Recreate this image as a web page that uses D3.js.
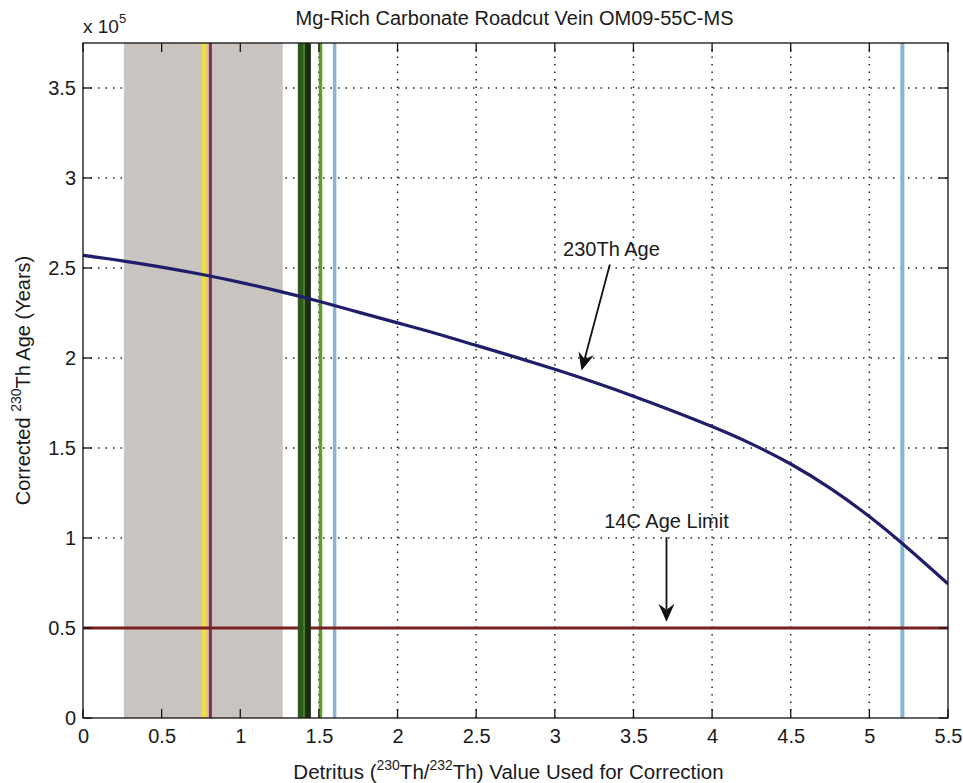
<!DOCTYPE html>
<html>
<head>
<meta charset="utf-8">
<script src="https://cdn.jsdelivr.net/npm/d3@7"></script>
<style>
  html, body { margin: 0; padding: 0; background: #fff; }
  svg text { font-family: "Liberation Sans", Arial, Helvetica, sans-serif; fill: #1a1a1a; }
</style>
</head>
<body>
<svg id="chart" width="963" height="783"></svg>
<script>
// Detritus (230Th/232Th) value used for the correction vs. corrected 230Th age
const detritusRatio = [0, 0.25, 0.5, 0.75, 1.0, 1.25, 1.5, 1.75, 2.0, 2.25, 2.5, 2.75,
                       3.0, 3.25, 3.5, 3.75, 4.0, 4.25, 4.5, 4.75, 5.0, 5.25, 5.5];
const correctedAge = [257000, 254000, 250500, 246500, 242000, 237000, 231500, 225500,
                      219500, 213500, 207000, 200500, 193700, 186500, 178800, 170600,
                      161900, 152300, 141100, 127700, 111900, 93900, 74500];

// Measured detritus ratios (vertical markers) and the shaded range
const shadedRange = [0.26, 1.27];
const markerRatios = [0.77, 0.81, 1.385, 1.43, 1.51, 1.60, 5.21];
const ageLimit14C = 50000;

// Axis ticks
const xTickValues = [0, 0.5, 1, 1.5, 2, 2.5, 3, 3.5, 4, 4.5, 5, 5.5];
const xTickLabels = ["0", "0.5", "1", "1.5", "2", "2.5", "3", "3.5", "4", "4.5", "5", "5.5"];
const yTickValues = [0, 50000, 100000, 150000, 200000, 250000, 300000, 350000];
const yTickLabels = ["0", "0.5", "1", "1.5", "2", "2.5", "3", "3.5"];
const xDomain = [0, 5.5];
const yDomain = [0, 375000];

// Annotation labels and arrows (data coordinates)
const annotationLabels = ["230Th Age", "14C Age Limit"];
const annotationText = [[3.36, 256500], [3.71, 105500]];
const annotationTail = [[3.35, 252000], [3.71, 100500]];
const annotationTip  = [[3.17, 193000], [3.71, 53500]];

// ---- styling ----
const markerStyles = [
  { color: "#f0df3c", width: 5 },
  { color: "#8a2a4e", width: 3 },
  { color: "#2c5a1c", width: 6 },
  { color: "#1a2d14", width: 6 },
  { color: "#629a2e", width: 3.5 },
  { color: "#86b6d4", width: 3.5 },
  { color: "#86b6d4", width: 4 }
];
const FS = 20;

const W = 963, H = 783;
const margin = { left: 83, right: 15, top: 43, bottom: 65 };
const svg = d3.select("#chart");

const x = d3.scaleLinear().domain(xDomain).range([margin.left, W - margin.right]);
const y = d3.scaleLinear().domain(yDomain).range([H - margin.bottom, margin.top]);

const plot = svg.append("g");
const clipId = "plotclip";
svg.append("defs").append("clipPath").attr("id", clipId)
  .append("rect")
  .attr("x", margin.left).attr("y", margin.top)
  .attr("width", W - margin.left - margin.right)
  .attr("height", H - margin.top - margin.bottom);

// dotted grid
const grid = plot.append("g").attr("stroke", "#222").attr("stroke-width", 1.5)
  .attr("stroke-dasharray", "1.5,6");
grid.selectAll(".gx").data(xTickValues.slice(1, -1)).join("line")
  .attr("x1", d => x(d)).attr("x2", d => x(d))
  .attr("y1", y(yDomain[0])).attr("y2", y(yDomain[1]));
grid.selectAll(".gy").data(yTickValues.slice(1)).join("line")
  .attr("y1", d => y(d)).attr("y2", d => y(d))
  .attr("x1", x(xDomain[0])).attr("x2", x(xDomain[1]));

const marks = plot.append("g").attr("clip-path", `url(#${clipId})`);

// shaded detritus range
marks.append("rect")
  .attr("x", x(shadedRange[0])).attr("width", x(shadedRange[1]) - x(shadedRange[0]))
  .attr("y", y(yDomain[1])).attr("height", y(yDomain[0]) - y(yDomain[1]))
  .attr("fill", "#cac4c1");

// vertical markers (dark green pair drawn after the 14C limit line)
const drawMarker = (i) => {
  marks.append("line")
    .attr("x1", x(markerRatios[i])).attr("x2", x(markerRatios[i]))
    .attr("y1", y(yDomain[0])).attr("y2", y(yDomain[1]))
    .attr("stroke", markerStyles[i].color)
    .attr("stroke-width", markerStyles[i].width);
};
[0, 1, 4, 5, 6].forEach(drawMarker);

// 14C age limit
marks.append("line")
  .attr("x1", x(xDomain[0])).attr("x2", x(xDomain[1]))
  .attr("y1", y(ageLimit14C)).attr("y2", y(ageLimit14C))
  .attr("stroke", "#7a2020").attr("stroke-width", 3);

[2, 3].forEach(drawMarker);
// thin lighter stripe between the two dark green markers
const midGreen = (markerRatios[2] + markerRatios[3]) / 2;
marks.append("line")
  .attr("x1", x(midGreen)).attr("x2", x(midGreen))
  .attr("y1", y(yDomain[0])).attr("y2", y(yDomain[1]))
  .attr("stroke", "#4d7a2a").attr("stroke-width", 1.5);

// corrected age curve
const line = d3.line().x((d, i) => x(detritusRatio[i])).y(d => y(d)).curve(d3.curveNatural);
marks.append("path").datum(correctedAge)
  .attr("d", line).attr("fill", "none")
  .attr("stroke", "#1e1e6a").attr("stroke-width", 3.2);

// axes box with inward ticks on all four sides
const tickLen = 9;
const axG = svg.append("g").attr("stroke", "#111").attr("stroke-width", 1.3);
axG.append("rect")
  .attr("x", x(xDomain[0])).attr("y", y(yDomain[1]))
  .attr("width", x(xDomain[1]) - x(xDomain[0])).attr("height", y(yDomain[0]) - y(yDomain[1]))
  .attr("fill", "none");
xTickValues.forEach(v => {
  axG.append("line").attr("x1", x(v)).attr("x2", x(v))
    .attr("y1", y(yDomain[0])).attr("y2", y(yDomain[0]) - tickLen);
  axG.append("line").attr("x1", x(v)).attr("x2", x(v))
    .attr("y1", y(yDomain[1])).attr("y2", y(yDomain[1]) + tickLen);
});
yTickValues.forEach(v => {
  axG.append("line").attr("y1", y(v)).attr("y2", y(v))
    .attr("x1", x(xDomain[0])).attr("x2", x(xDomain[0]) + tickLen);
  axG.append("line").attr("y1", y(v)).attr("y2", y(v))
    .attr("x1", x(xDomain[1])).attr("x2", x(xDomain[1]) - tickLen);
});

// tick labels via d3 axes (domain & tick lines hidden; the box is drawn above)
const xAxis = d3.axisBottom(x).tickValues(xTickValues)
  .tickFormat((d, i) => xTickLabels[i]).tickSize(0).tickPadding(11);
svg.append("g").attr("transform", `translate(0,${y(yDomain[0])})`).call(xAxis)
  .call(g => g.select(".domain").remove())
  .selectAll("text").attr("font-size", FS).attr("fill", "#1a1a1a");

const yAxis = d3.axisLeft(y).tickValues(yTickValues)
  .tickFormat((d, i) => yTickLabels[i]).tickSize(0).tickPadding(7);
svg.append("g").attr("transform", `translate(${x(xDomain[0])},0)`).call(yAxis)
  .call(g => g.select(".domain").remove())
  .selectAll("text").attr("font-size", FS).attr("fill", "#1a1a1a");

// exponent label
const expo = svg.append("text").attr("x", 83).attr("y", 33).attr("font-size", 19);
expo.append("tspan").text("x 10");
expo.append("tspan").attr("font-size", 13).attr("dy", -10).text("5");

// title
svg.append("text").attr("x", (x(xDomain[0]) + x(xDomain[1])) / 2 - 1).attr("y", 25)
  .attr("text-anchor", "middle").attr("font-size", FS)
  .text("Mg-Rich Carbonate Roadcut Vein OM09-55C-MS");

// x label
const xl = svg.append("text").attr("x", (x(xDomain[0]) + x(xDomain[1])) / 2 - 7).attr("y", 779)
  .attr("text-anchor", "middle").attr("font-size", 20.5);
xl.append("tspan").text("Detritus (");
xl.append("tspan").attr("font-size", 14).attr("dy", -9).text("230");
xl.append("tspan").attr("dy", 9).text("Th/");
xl.append("tspan").attr("font-size", 14).attr("dy", -9).text("232");
xl.append("tspan").attr("dy", 9).text("Th) Value Used for Correction");

// y label
const yl = svg.append("text")
  .attr("transform", `translate(30,${(y(yDomain[0]) + y(yDomain[1])) / 2}) rotate(-90)`)
  .attr("text-anchor", "middle").attr("font-size", FS);
yl.append("tspan").text("Corrected ");
yl.append("tspan").attr("font-size", 14).attr("dy", -9).text("230");
yl.append("tspan").attr("dy", 9).text("Th Age (Years)");

// annotations with notched arrowheads
const ann = svg.append("g");
annotationLabels.forEach((lab, i) => {
  ann.append("text").attr("x", x(annotationText[i][0])).attr("y", y(annotationText[i][1]))
    .attr("text-anchor", "middle").attr("font-size", FS).text(lab);
  const x0 = x(annotationTail[i][0]), y0 = y(annotationTail[i][1]);
  const x1 = x(annotationTip[i][0]), y1 = y(annotationTip[i][1]);
  const ang = Math.atan2(y1 - y0, x1 - x0);
  const L = 18, hw = 8, notch = 12;
  const ux = Math.cos(ang), uy = Math.sin(ang), px = -uy, py = ux;
  const bx = x1 - ux * L, by = y1 - uy * L;
  const nx = x1 - ux * notch, ny = y1 - uy * notch;
  ann.append("line").attr("x1", x0).attr("y1", y0).attr("x2", nx).attr("y2", ny)
    .attr("stroke", "#111").attr("stroke-width", 1.8);
  ann.append("path")
    .attr("d", `M${x1},${y1} L${bx + px * hw},${by + py * hw} L${nx},${ny} L${bx - px * hw},${by - py * hw} Z`)
    .attr("fill", "#111");
});
</script>
</body>
</html>
